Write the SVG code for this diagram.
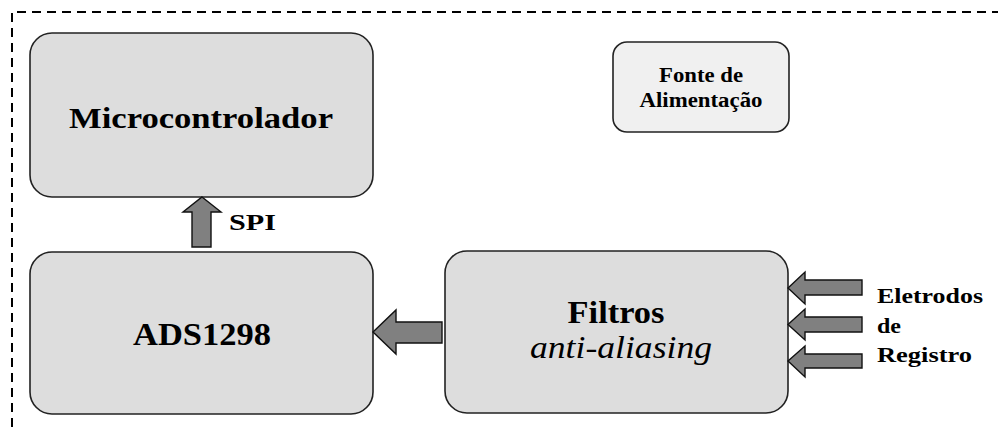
<svg xmlns="http://www.w3.org/2000/svg" width="998" height="427" viewBox="0 0 998 427">
<style>
.box{fill:#dddddd;stroke:#222;stroke-width:1.6}
.box2{fill:#f0f0f0;stroke:#222;stroke-width:1.6}
.arr{fill:#808080;stroke:#111;stroke-width:1.4;stroke-linejoin:miter}
.t{font-family:'Liberation Serif','Times New Roman',Times,serif;font-weight:bold;fill:#000}
.it{font-family:'Liberation Serif','Times New Roman',Times,serif;font-style:italic;fill:#000}
</style>
<rect width="998" height="427" fill="#fff"/>
<path d="M12,427 V12 H998" fill="none" stroke="#000" stroke-width="2" stroke-dasharray="9 6"/>
<g id="microcontrolador">
<rect class="box" x="30" y="33" width="343" height="164" rx="22"/>
<text class="t" font-family="Liberation Serif" x="201" y="128" font-size="30" text-anchor="middle" textLength="264" lengthAdjust="spacingAndGlyphs">Microcontrolador</text>
</g>
<g id="ads1298">
<rect class="box" x="30" y="252" width="343" height="162" rx="22"/>
<text class="t" font-family="Liberation Serif" x="202" y="345" font-size="31" text-anchor="middle" textLength="138" lengthAdjust="spacingAndGlyphs">ADS1298</text>
</g>
<g id="filtros">
<rect class="box" x="445" y="251" width="343" height="162" rx="22"/>
<text class="t" font-family="Liberation Serif" x="616" y="323" font-size="31" text-anchor="middle" textLength="97" lengthAdjust="spacingAndGlyphs">Filtros</text>
<text class="it" font-family="Liberation Serif" x="621" y="358" font-size="31" text-anchor="middle" textLength="182" lengthAdjust="spacingAndGlyphs">anti-aliasing</text>
</g>
<g id="fonte">
<rect class="box2" x="613" y="42" width="176" height="90" rx="14"/>
<text class="t" font-family="Liberation Serif" x="701" y="82" font-size="20" text-anchor="middle" textLength="84" lengthAdjust="spacingAndGlyphs">Fonte de</text>
<text class="t" font-family="Liberation Serif" x="701" y="107" font-size="20" text-anchor="middle" textLength="123" lengthAdjust="spacingAndGlyphs">Alimentação</text>
</g>
<g id="connectors">
<polygon class="arr" points="202,197 221,212 211,212 211,247 192,247 192,212 183,212"/>
<polygon class="arr" points="373,332 396,310 396,322 442,322 442,343 396,343 396,354"/>
<polygon class="arr" points="788,288 805,272 805,280 862,280 862,295 805,295 805,304"/>
<polygon class="arr" points="788,324.5 805,309 805,317 862,317 862,332 805,332 805,340"/>
<polygon class="arr" points="788,361 805,346 805,354 862,354 862,368 805,368 805,377"/>
</g>
<g id="labels">
<text class="t" font-family="Liberation Serif" x="229" y="230" font-size="24" textLength="47" lengthAdjust="spacingAndGlyphs">SPI</text>
<text class="t" font-family="Liberation Serif" x="877" y="303" font-size="22" textLength="106" lengthAdjust="spacingAndGlyphs">Eletrodos</text>
<text class="t" font-family="Liberation Serif" x="877" y="333" font-size="22" textLength="24" lengthAdjust="spacingAndGlyphs">de</text>
<text class="t" font-family="Liberation Serif" x="877" y="362" font-size="22" textLength="95" lengthAdjust="spacingAndGlyphs">Registro</text>
</g>
</svg>
